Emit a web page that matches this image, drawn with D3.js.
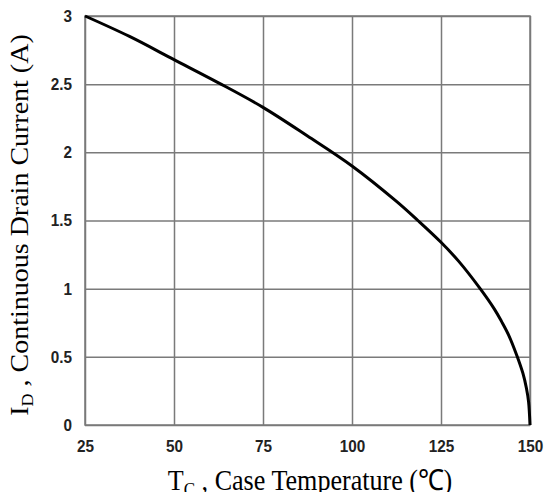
<!DOCTYPE html>
<html>
<head>
<meta charset="utf-8">
<script src="https://cdn.jsdelivr.net/npm/d3@7"></script>
<style>
  html, body { margin: 0; padding: 0; background: #fff; overflow: hidden; }
  svg { display: block; }
</style>
</head>
<body>
<div id="chart"></div>
<script>
// Case temperature (°C) and continuous drain current (A)
const caseTemp = [25, 37.5, 50, 62.5, 75, 87.5, 100, 112.5, 118.5, 125, 130, 136, 140, 142, 144, 146.3, 148, 149, 149.6, 150];
const drainCurrent = [3, 2.85, 2.68, 2.51, 2.33, 2.12, 1.90, 1.64, 1.50, 1.34, 1.20, 1.00, 0.85, 0.76, 0.66, 0.51, 0.38, 0.27, 0.17, 0];
const xTicks = [25, 50, 75, 100, 125, 150];
const yTicks = [0, 0.5, 1, 1.5, 2, 2.5, 3];

const width = 544, height = 492;
const margin = { top: 16, right: 14, bottom: 67, left: 85 };
const innerWidth = width - margin.left - margin.right;
const innerHeight = height - margin.top - margin.bottom;

// le texte de l'original est un peu tassé horizontalement
const squeeze = 0.9;

const svg = d3.select("#chart").append("svg")
    .attr("width", width)
    .attr("height", height);

const g = svg.append("g")
    .attr("transform", `translate(${margin.left},${margin.top})`);

const x = d3.scaleLinear().domain([25, 150]).range([0, innerWidth]);
const y = d3.scaleLinear().domain([0, 3]).range([innerHeight, 0]);

// grille
g.append("g")
    .attr("transform", `translate(0,${innerHeight})`)
    .call(d3.axisBottom(x).tickValues(xTicks).tickSize(-innerHeight).tickFormat(""))
    .call(a => a.select(".domain").remove())
    .call(a => a.selectAll("line").attr("stroke", "#7a7a7a").attr("stroke-width", 1.5));

g.append("g")
    .call(d3.axisLeft(y).tickValues(yTicks).tickSize(-innerWidth).tickFormat(""))
    .call(a => a.select(".domain").remove())
    .call(a => a.selectAll("line").attr("stroke", "#7a7a7a").attr("stroke-width", 1.5));

// cadre
g.append("rect")
    .attr("width", innerWidth)
    .attr("height", innerHeight)
    .attr("fill", "none")
    .attr("stroke", "#7a7a7a")
    .attr("stroke-width", 1.5);

// étiquettes des ticks
const tickStyle = sel => sel
    .attr("font-family", "Liberation Sans, Arial, sans-serif")
    .attr("font-weight", "bold")
    .attr("font-size", 17)
    .attr("transform", `scale(${squeeze},1)`)
    .attr("fill", "#222");

const xAxis = g.append("g")
    .attr("transform", `translate(0,${innerHeight})`)
    .call(d3.axisBottom(x).tickValues(xTicks).tickSize(0).tickPadding(15));
xAxis.select(".domain").remove();
xAxis.selectAll("text").call(tickStyle);

const yAxis = g.append("g")
    .call(d3.axisLeft(y).tickValues(yTicks).tickSize(0).tickPadding(14.5).tickFormat(d3.format("~g")));
yAxis.select(".domain").remove();
yAxis.selectAll("text").call(tickStyle);

// courbe
const line = d3.line()
    .x((d, i) => x(caseTemp[i]))
    .y(d => y(d))
    .curve(d3.curveCatmullRom.alpha(0.5));

g.append("path")
    .datum(drainCurrent)
    .attr("d", line)
    .attr("fill", "none")
    .attr("stroke", "#000")
    .attr("stroke-width", 3);

// titres des axes
const xLabel = svg.append("text")
    .attr("transform", `translate(310,490) scale(${squeeze},1)`)
    .attr("text-anchor", "middle")
    .attr("font-family", "Liberation Serif, Times New Roman, serif")
    .attr("font-size", 29)
    .attr("fill", "#000");
xLabel.append("tspan").text("T");
xLabel.append("tspan").attr("font-size", 19).attr("dy", 6).text("C");
xLabel.append("tspan").attr("dy", -6).text(" , Case Temperature (℃)");

const yLabel = svg.append("text")
    .attr("transform", `translate(28,225) scale(${squeeze},1) rotate(-90)`)
    .attr("text-anchor", "middle")
    .attr("font-family", "Liberation Serif, Times New Roman, serif")
    .attr("font-size", 28)
    .attr("fill", "#000");
yLabel.append("tspan").text("I");
yLabel.append("tspan").attr("font-size", 18).attr("dy", 5).text("D");
yLabel.append("tspan").attr("dy", -5).text(" , Continuous Drain Current (A)");
</script>
</body>
</html>
